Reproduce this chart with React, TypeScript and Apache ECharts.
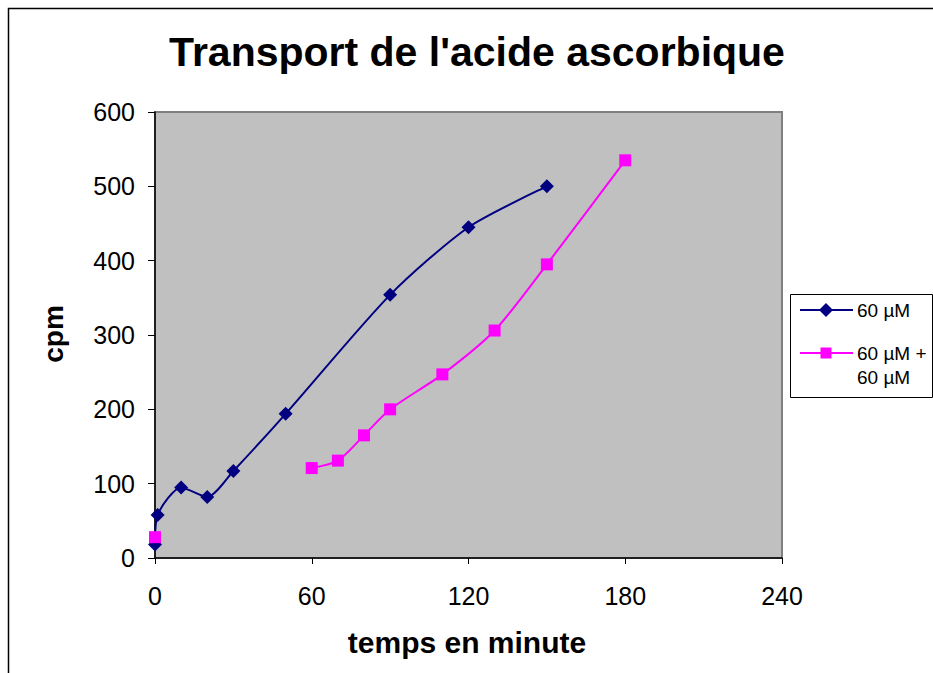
import React, { useEffect, useRef } from "react";
import * as echarts from "echarts";

const titleText = "Transport de l'acide ascorbique";
const xAxisTitle = "temps en minute";
const yAxisTitle = "cpm";

const seriesNames = ["60 µM", "60 µM +\n60 µM"];

// Series 1: 60 µM
const time1 = [0, 1, 10, 20, 30, 50, 90, 120, 150];
const cpm1 = [18, 58, 95, 82, 117, 194, 354, 445, 500];

// Series 2: 60 µM + 60 µM (null marks a gap in the line)
const time2 = [0, null, 60, 70, 80, 90, 110, 130, 150, 180];
const cpm2 = [28, null, 121, 131, 165, 200, 247, 306, 395, 535];

const xTicks = { min: 0, max: 240, interval: 60 };
const yTicks = { min: 0, max: 600, interval: 100 };

const FONT = '"Liberation Sans", Arial, sans-serif';
const NAVY = "#000080";
const MAGENTA = "#FF00FF";

export default function App() {
  const ref = useRef<HTMLDivElement>(null);

  useEffect(() => {
    document.body.style.margin = "0";
    if (!ref.current) return;
    const chart = echarts.init(ref.current, undefined, { renderer: "svg" });

    const data1 = time1.map((t, i) => [t, cpm1[i]]);
    const data2 = time2.map((t, i) =>
      t === null || cpm2[i] === null ? ["-", "-"] : [t, cpm2[i]]
    );

    const gl = 155, gr = 782, gt = 112, gb = 558;

    chart.setOption({
      animation: false,
      backgroundColor: "#ffffff",
      grid: {
        left: gl,
        right: 933 - gr,
        top: gt,
        bottom: 673 - gb,
        show: true,
        backgroundColor: "#C0C0C0",
        borderColor: "#808080",
        borderWidth: 2,
        containLabel: false,
      },
      xAxis: {
        type: "value",
        min: xTicks.min,
        max: xTicks.max,
        interval: xTicks.interval,
        axisLine: { show: true, onZero: false, lineStyle: { color: "#000", width: 1.5 } },
        axisTick: { show: true, inside: false, length: 6, lineStyle: { color: "#000", width: 1 } },
        axisLabel: { color: "#000", fontSize: 25, fontFamily: FONT, margin: 25 },
        splitLine: { show: false },
      },
      yAxis: {
        type: "value",
        min: yTicks.min,
        max: yTicks.max,
        interval: yTicks.interval,
        axisLine: { show: true, onZero: false, lineStyle: { color: "#000", width: 1.5 } },
        axisTick: { show: true, inside: false, length: 7, lineStyle: { color: "#000", width: 1 } },
        axisLabel: { color: "#000", fontSize: 25, fontFamily: FONT, margin: 20 },
        splitLine: { show: false },
      },
      series: [
        {
          name: seriesNames[0],
          type: "line",
          data: data1,
          smooth: 0.25,
          symbol: "diamond",
          symbolSize: 14,
          lineStyle: { color: NAVY, width: 2 },
          itemStyle: { color: NAVY },
          z: 3,
        },
        {
          name: seriesNames[1],
          type: "line",
          data: data2,
          smooth: 0.25,
          connectNulls: false,
          symbol: "rect",
          symbolSize: 12,
          lineStyle: { color: MAGENTA, width: 2 },
          itemStyle: { color: MAGENTA },
          z: 4,
        },
      ],
      graphic: [
        {
          type: "rect",
          shape: { x: 8.5, y: 8.5, width: 1000, height: 1000 },
          style: { fill: "none", stroke: "#000", lineWidth: 1.5 },
          silent: true,
          z: 0,
        },
        {
          type: "text",
          x: 477,
          y: 52,
          style: {
            text: titleText,
            fontSize: 41,
            fontWeight: "bold",
            fontFamily: FONT,
            fill: "#000",
            textAlign: "center",
            align: "center",
            textVerticalAlign: "middle",
            verticalAlign: "middle",
          },
        },
        {
          type: "text",
          x: 467,
          y: 642,
          style: {
            text: xAxisTitle,
            fontSize: 30,
            fontWeight: "bold",
            fontFamily: FONT,
            fill: "#000",
            textAlign: "center",
            align: "center",
            textVerticalAlign: "middle",
            verticalAlign: "middle",
          },
        },
        {
          type: "text",
          x: 53,
          y: 334,
          rotation: Math.PI / 2,
          style: {
            text: yAxisTitle,
            fontSize: 28,
            fontWeight: "bold",
            fontFamily: FONT,
            fill: "#000",
            textAlign: "center",
            align: "center",
            textVerticalAlign: "middle",
            verticalAlign: "middle",
          },
        },
        // Legend
        {
          type: "rect",
          shape: { x: 790.5, y: 294.5, width: 142, height: 103 },
          style: { fill: "#fff", stroke: "#000", lineWidth: 1 },
        },
        {
          type: "line",
          shape: { x1: 800, y1: 310, x2: 853, y2: 310 },
          style: { stroke: NAVY, lineWidth: 2 },
        },
        {
          type: "polygon",
          shape: { points: [[826, 303], [833, 310], [826, 317], [819, 310]] },
          style: { fill: NAVY },
        },
        {
          type: "text",
          x: 857,
          y: 310,
          style: {
            text: seriesNames[0],
            fontSize: 19,
            fontFamily: FONT,
            fill: "#000",
            textAlign: "left",
            align: "left",
            textVerticalAlign: "middle",
            verticalAlign: "middle",
          },
        },
        {
          type: "line",
          shape: { x1: 800, y1: 353, x2: 853, y2: 353 },
          style: { stroke: MAGENTA, lineWidth: 2 },
        },
        {
          type: "rect",
          shape: { x: 820.5, y: 347.5, width: 11, height: 11 },
          style: { fill: MAGENTA },
        },
        {
          type: "text",
          x: 857,
          y: 365,
          style: {
            text: seriesNames[1],
            fontSize: 19,
            lineHeight: 24,
            fontFamily: FONT,
            fill: "#000",
            textAlign: "left",
            align: "left",
            textVerticalAlign: "middle",
            verticalAlign: "middle",
          },
        },
      ],
    });

    return () => chart.dispose();
  }, []);

  return <div ref={ref} style={{ width: 933, height: 673 }} />;
}
